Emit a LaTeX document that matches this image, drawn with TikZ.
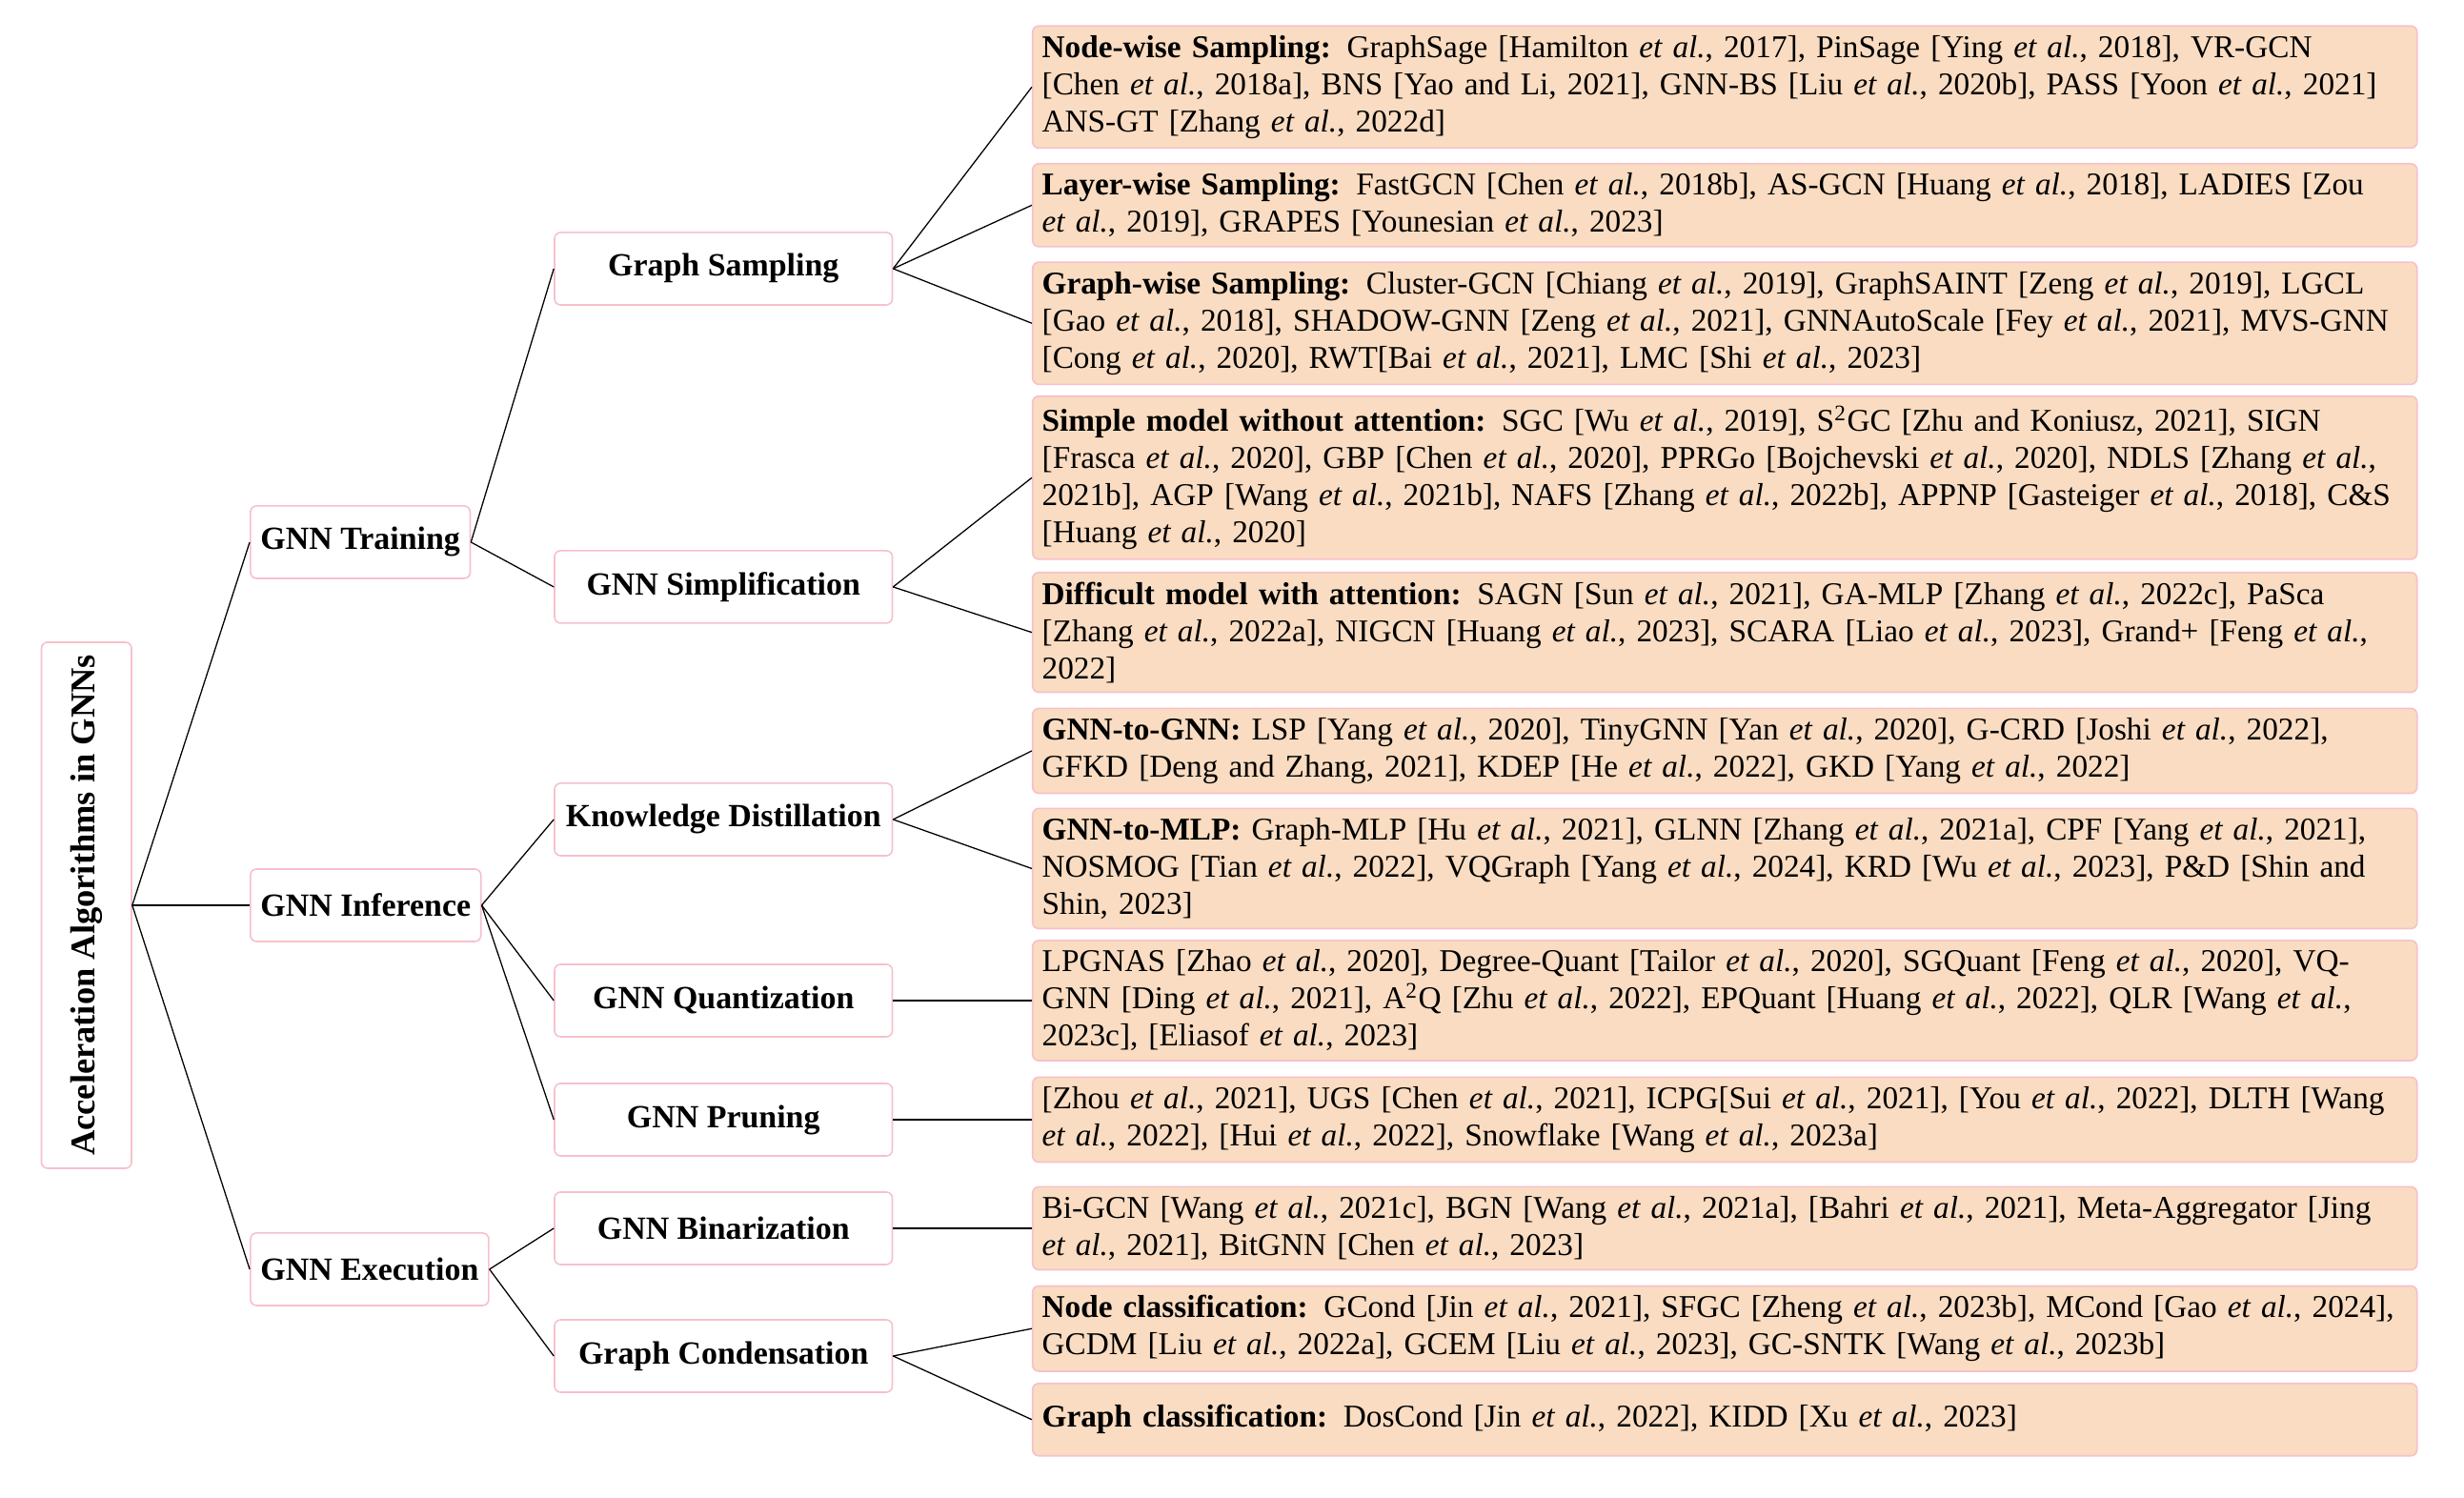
\documentclass[tikz,border=0pt]{standalone}
\usepackage{fontspec}
\setmainfont{Liberation Serif}
\definecolor{leaffill}{RGB}{249,220,193}
\definecolor{boxline}{RGB}{247,192,203}
\begin{document}
\begin{tikzpicture}[
    rootbox/.style={draw=boxline,line width=0.5pt,fill=white,rounded corners=2pt,rotate=90,
      minimum width=6.063cm,minimum height=1.038cm,inner sep=0pt,
      font=\fontsize{11.4}{13.7}\selectfont\bfseries},
    catbox/.style={draw=boxline,line width=0.5pt,fill=white,rounded corners=2pt,anchor=west,
      minimum height=0.835cm,inner xsep=3.3pt,font=\fontsize{10.6}{12.2}\selectfont\bfseries},
    subbox/.style={draw=boxline,line width=0.5pt,fill=white,rounded corners=2pt,
      minimum width=3.894cm,minimum height=0.835cm,font=\fontsize{10.6}{12.2}\selectfont\bfseries},
    leafbox/.style={draw=boxline,line width=0.5pt,fill=leaffill,rounded corners=2pt,anchor=west,
      align=left,text width=15.74cm,inner xsep=3.1pt,inner ysep=3.1pt,minimum height=0.835cm,
      font=\fontsize{10.4}{12.2}\selectfont}]
  \useasboundingbox (0cm,0cm) rectangle (28.402cm,17.265cm);

  % root and main branches
  \node[rootbox] (root) at (0.997cm,6.831cm) {Acceleration Algorithms in GNNs};
  \node[catbox] (train) at (2.878cm,11.016cm) {GNN Training};
  \node[catbox] (infer) at (2.878cm,6.831cm)  {GNN Inference};
  \node[catbox] (exec)  at (2.878cm,2.636cm)  {GNN Execution};

  % techniques
  \node[subbox] (gsamp) at (8.339cm,14.168cm) {Graph Sampling};
  \node[subbox] (gsimp) at (8.339cm,10.500cm) {GNN Simplification};
  \node[subbox] (kd)    at (8.339cm,7.820cm)  {Knowledge Distillation};
  \node[subbox] (quant) at (8.339cm,5.733cm)  {GNN Quantization};
  \node[subbox] (prune) at (8.339cm,4.360cm)  {GNN Pruning};
  \node[subbox] (binar) at (8.339cm,3.108cm)  {GNN Binarization};
  \node[subbox] (cond)  at (8.339cm,1.636cm)  {Graph Condensation};

  % works
  \node[leafbox] (nodews) at (11.894cm,16.262cm) {\textbf{Node-wise Sampling:}\enspace GraphSage [Hamilton \textit{et al.}, 2017], PinSage [Ying \textit{et al.}, 2018], VR-GCN\\{}[Chen \textit{et al.}, 2018a], BNS [Yao and Li, 2021], GNN-BS [Liu \textit{et al.}, 2020b], PASS [Yoon \textit{et al.}, 2021]\\ ANS-GT [Zhang \textit{et al.}, 2022d]};
  \node[leafbox] (layerws) at (11.894cm,14.900cm) {\textbf{Layer-wise Sampling:}\enspace FastGCN [Chen \textit{et al.}, 2018b], AS-GCN [Huang \textit{et al.}, 2018], LADIES [Zou\\ \textit{et al.}, 2019], GRAPES [Younesian \textit{et al.}, 2023]};
  \node[leafbox] (graphws) at (11.894cm,13.539cm) {\textbf{Graph-wise Sampling:}\enspace Cluster-GCN [Chiang \textit{et al.}, 2019], GraphSAINT [Zeng \textit{et al.}, 2019], LGCL\\{}[Gao \textit{et al.}, 2018], SHADOW-GNN [Zeng \textit{et al.}, 2021], GNNAutoScale [Fey \textit{et al.}, 2021], MVS-GNN\\{}[Cong \textit{et al.}, 2020], RWT[Bai \textit{et al.}, 2021], LMC [Shi \textit{et al.}, 2023]};
  \node[leafbox] (simple) at (11.894cm,11.759cm) {\textbf{Simple model without attention:}\enspace SGC [Wu \textit{et al.}, 2019], S\textsuperscript{2}GC [Zhu and Koniusz, 2021], SIGN\\{}[Frasca \textit{et al.}, 2020], GBP [Chen \textit{et al.}, 2020], PPRGo [Bojchevski \textit{et al.}, 2020], NDLS [Zhang \textit{et al.},\\ 2021b], AGP [Wang \textit{et al.}, 2021b], NAFS [Zhang \textit{et al.}, 2022b], APPNP [Gasteiger \textit{et al.}, 2018], C\&S\\{}[Huang \textit{et al.}, 2020]};
  \node[leafbox] (difficult) at (11.894cm,9.976cm) {\textbf{Difficult model with attention:}\enspace SAGN [Sun \textit{et al.}, 2021], GA-MLP [Zhang \textit{et al.}, 2022c], PaSca\\{}[Zhang \textit{et al.}, 2022a], NIGCN [Huang \textit{et al.}, 2023], SCARA [Liao \textit{et al.}, 2023], Grand+ [Feng \textit{et al.},\\ 2022]};
  \node[leafbox] (gtog) at (11.894cm,8.611cm) {\textbf{GNN-to-GNN:} LSP [Yang \textit{et al.}, 2020], TinyGNN [Yan \textit{et al.}, 2020], G-CRD [Joshi \textit{et al.}, 2022],\\ GFKD [Deng and Zhang, 2021], KDEP [He \textit{et al.}, 2022], GKD [Yang \textit{et al.}, 2022]};
  \node[leafbox] (gtom) at (11.894cm,7.254cm) {\textbf{GNN-to-MLP:} Graph-MLP [Hu \textit{et al.}, 2021], GLNN [Zhang \textit{et al.}, 2021a], CPF [Yang \textit{et al.}, 2021],\\ NOSMOG [Tian \textit{et al.}, 2022], VQGraph [Yang \textit{et al.}, 2024], KRD [Wu \textit{et al.}, 2023], P\&D [Shin and\\ Shin, 2023]};
  \node[leafbox] (quantw) at (11.894cm,5.733cm) {LPGNAS [Zhao \textit{et al.}, 2020], Degree-Quant [Tailor \textit{et al.}, 2020], SGQuant [Feng \textit{et al.}, 2020], VQ-\\ GNN [Ding \textit{et al.}, 2021], A\textsuperscript{2}Q [Zhu \textit{et al.}, 2022], EPQuant [Huang \textit{et al.}, 2022], QLR [Wang \textit{et al.},\\ 2023c], [Eliasof \textit{et al.}, 2023]};
  \node[leafbox] (prunew) at (11.894cm,4.360cm) {[Zhou \textit{et al.}, 2021], UGS [Chen \textit{et al.}, 2021], ICPG[Sui \textit{et al.}, 2021], [You \textit{et al.}, 2022], DLTH [Wang\\ \textit{et al.}, 2022], [Hui \textit{et al.}, 2022], Snowflake [Wang \textit{et al.}, 2023a]};
  \node[leafbox] (binarw) at (11.894cm,3.108cm) {Bi-GCN [Wang \textit{et al.}, 2021c], BGN [Wang \textit{et al.}, 2021a], [Bahri \textit{et al.}, 2021], Meta-Aggregator [Jing\\ \textit{et al.}, 2021], BitGNN [Chen \textit{et al.}, 2023]};
  \node[leafbox] (nodecls) at (11.894cm,1.952cm) {\textbf{Node classification:}\enspace GCond [Jin \textit{et al.}, 2021], SFGC [Zheng \textit{et al.}, 2023b], MCond [Gao \textit{et al.}, 2024],\\ GCDM [Liu \textit{et al.}, 2022a], GCEM [Liu \textit{et al.}, 2023], GC-SNTK [Wang \textit{et al.}, 2023b]};
  \node[leafbox] (graphcls) at (11.894cm,0.903cm) {\textbf{Graph classification:}\enspace DosCond [Jin \textit{et al.}, 2022], KIDD [Xu \textit{et al.}, 2023]};

  % edges
  \draw (root.south) -- (train.west);
  \draw (root.south) -- (infer.west);
  \draw (root.south) -- (exec.west);

  \draw (train.east) -- (gsamp.west);
  \draw (train.east) -- (gsimp.west);
  \draw (infer.east) -- (kd.west);
  \draw (infer.east) -- (quant.west);
  \draw (infer.east) -- (prune.west);
  \draw (exec.east) -- (binar.west);
  \draw (exec.east) -- (cond.west);

  \draw (gsamp.east) -- (nodews.west);
  \draw (gsamp.east) -- (layerws.west);
  \draw (gsamp.east) -- (graphws.west);
  \draw (gsimp.east) -- (simple.west);
  \draw (gsimp.east) -- (difficult.west);
  \draw (kd.east) -- (gtog.west);
  \draw (kd.east) -- (gtom.west);
  \draw (quant.east) -- (quantw.west);
  \draw (prune.east) -- (prunew.west);
  \draw (binar.east) -- (binarw.west);
  \draw (cond.east) -- (nodecls.west);
  \draw (cond.east) -- (graphcls.west);
\end{tikzpicture}
\end{document}
